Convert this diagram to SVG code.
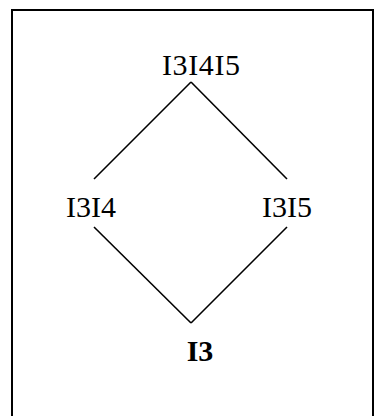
<svg xmlns="http://www.w3.org/2000/svg" width="386" height="416" viewBox="0 0 386 416">
<style>
.lbl{font-family:"Liberation Serif","Times New Roman",serif;font-size:30px;fill:#000;text-anchor:middle}
.b{font-weight:bold}
.edge{stroke:#000;stroke-width:1.6;fill:none}
</style>
<rect x="0" y="0" width="386" height="416" fill="#fff"/>
<rect x="12" y="10" width="361" height="430" fill="none" stroke="#000" stroke-width="2"/>
<g id="connectors">
<line class="edge" x1="191" y1="82" x2="94" y2="179"/>
<line class="edge" x1="191" y1="82" x2="287" y2="179"/>
<line class="edge" x1="94" y1="227" x2="191" y2="323"/>
<line class="edge" x1="287" y1="227" x2="191" y2="323"/>
</g>
<g id="n-I3I4I5"><text class="lbl" x="201" y="75" textLength="78">I3I4I5</text></g>
<g id="n-I3I4"><text class="lbl" x="91" y="217">I3I4</text></g>
<g id="n-I3I5"><text class="lbl" x="287" y="217">I3I5</text></g>
<g id="n-I3"><text class="lbl b" x="200" y="361">I3</text></g>
</svg>
